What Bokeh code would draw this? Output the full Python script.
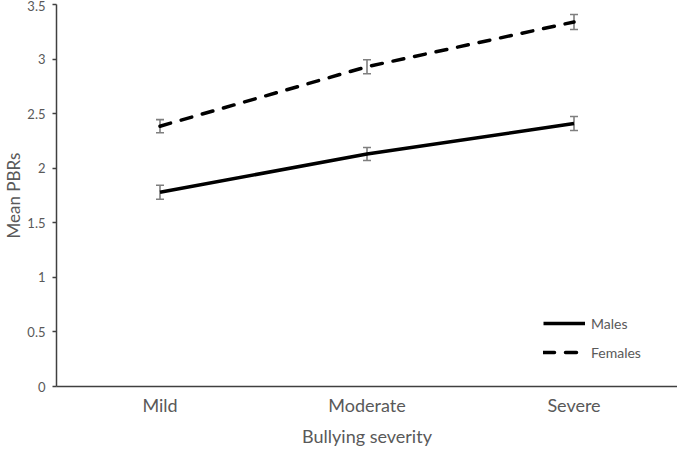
from bokeh.plotting import figure
from bokeh.models import Range1d, FixedTicker, Whisker, ColumnDataSource, Legend, LegendItem
from bokeh.embed import file_html
from bokeh.resources import INLINE

categories = ["Mild", "Moderate", "Severe"]
males = [1.78, 2.13, 2.41]
females = [2.385, 2.93, 3.34]
males_err = [0.064, 0.06, 0.064]
females_err = [0.06, 0.064, 0.069]
y_ticks = [0, 0.5, 1, 1.5, 2, 2.5, 3, 3.5]
y_tick_labels = ["0", "0.5", "1", "1.5", "2", "2.5", "3", "3.5"]
x_title = "Bullying severity"
y_title = "Mean PBRs"

FONT = "Lato"
GRAY_TEXT = "#595959"
AXIS_COL = "#404040"

xs = list(range(len(categories)))

p = figure(width=677, height=449, output_backend="svg", toolbar_location=None,
           x_range=Range1d(-0.5, 2.5), y_range=Range1d(0, 3.5),
           min_border_left=45, min_border_right=0, min_border_top=4, min_border_bottom=55)
p.outline_line_color = None
p.xgrid.grid_line_color = None
p.ygrid.grid_line_color = None

# y axis
p.yaxis.ticker = FixedTicker(ticks=y_ticks)
p.yaxis.major_label_overrides = {t: l for t, l in zip(y_ticks, y_tick_labels)}
p.yaxis.major_label_text_font = FONT
p.yaxis.major_label_text_font_size = "13px"
p.yaxis.major_label_text_color = GRAY_TEXT
p.yaxis.major_label_standoff = 7
p.yaxis.major_tick_out = 4
p.yaxis.major_tick_in = 0
p.yaxis.minor_tick_line_color = None
p.yaxis.axis_line_color = AXIS_COL
p.yaxis.axis_line_width = 1.5
p.yaxis.major_tick_line_color = AXIS_COL
p.yaxis.major_tick_line_width = 1.5
p.yaxis.axis_label = y_title
p.yaxis.axis_label_text_font = FONT
p.yaxis.axis_label_text_font_style = "normal"
p.yaxis.axis_label_text_font_size = "17px"
p.yaxis.axis_label_text_line_height = 0.9
p.yaxis.axis_label_text_color = GRAY_TEXT
p.yaxis.axis_label_standoff = 0

# x axis
p.xaxis.ticker = FixedTicker(ticks=xs)
p.xaxis.major_label_overrides = {x: c for x, c in zip(xs, categories)}
p.xaxis.major_label_text_font = FONT
p.xaxis.major_label_text_font_size = "18px"
p.xaxis.major_label_text_color = GRAY_TEXT
p.xaxis.major_label_text_line_height = 0.85
p.xaxis.major_label_standoff = 7
p.xaxis.major_tick_out = 0
p.xaxis.major_tick_in = 0
p.xaxis.major_tick_line_color = None
p.xaxis.minor_tick_line_color = None
p.xaxis.axis_line_color = AXIS_COL
p.xaxis.axis_line_width = 1.5
p.xaxis.axis_label = x_title
p.xaxis.axis_label_text_font = FONT
p.xaxis.axis_label_text_font_style = "normal"
p.xaxis.axis_label_text_font_size = "18px"
p.xaxis.axis_label_text_color = GRAY_TEXT
p.xaxis.axis_label_text_line_height = 0.85
p.xaxis.axis_label_standoff = 6

# lines
r_m = p.line(xs, males, line_color="black", line_width=3.5)
r_f = p.line(xs, females, line_color="black", line_width=3.5,
             line_dash="11 11", line_cap="round")

# error bars
for vals, errs in ((males, males_err), (females, females_err)):
    src = ColumnDataSource(dict(x=xs,
                                lo=[v - e for v, e in zip(vals, errs)],
                                hi=[v + e for v, e in zip(vals, errs)]))
    w = Whisker(base="x", lower="lo", upper="hi", source=src,
                line_color="#7f7f7f", line_width=1.6)
    w.upper_head.size = 8
    w.lower_head.size = 8
    w.upper_head.line_color = "#7f7f7f"
    w.lower_head.line_color = "#7f7f7f"
    w.upper_head.line_width = 1.6
    w.lower_head.line_width = 1.6
    p.add_layout(w)

legend = Legend(items=[LegendItem(label="Males", renderers=[r_m]),
                       LegendItem(label="Females", renderers=[r_f])],
                location=(487, 24), border_line_color=None, background_fill_alpha=0,
                glyph_width=42, glyph_height=20, label_height=20, spacing=9,
                padding=0, margin=0, label_standoff=6,
                label_text_font=FONT, label_text_font_size="14px",
                label_text_color=GRAY_TEXT)
p.add_layout(legend)

open("out.html", "w").write(file_html(p, INLINE))
